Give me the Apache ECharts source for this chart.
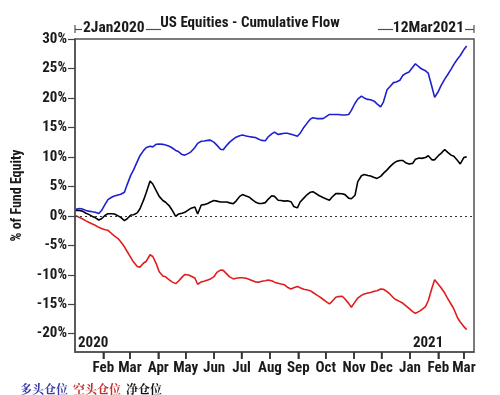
<!DOCTYPE html>
<html><head><meta charset="utf-8">
<script src="https://cdn.jsdelivr.net/npm/echarts@6/dist/echarts.min.js"></script>
<style>html,body{margin:0;padding:0;background:#fff}#c{width:500px;height:395px}</style>
</head><body><div id="c"></div>
<script>
const dates = ['2020-01-02','2020-01-06','2020-01-09','2020-01-13','2020-01-16','2020-01-20','2020-01-23','2020-01-27','2020-01-30','2020-02-03','2020-02-06','2020-02-10','2020-02-13','2020-02-17','2020-02-20','2020-02-24','2020-02-27','2020-03-02','2020-03-05','2020-03-09','2020-03-12','2020-03-16','2020-03-19','2020-03-23','2020-03-26','2020-03-30','2020-04-02','2020-04-06','2020-04-09','2020-04-13','2020-04-16','2020-04-20','2020-04-23','2020-04-27','2020-04-30','2020-05-04','2020-05-07','2020-05-11','2020-05-14','2020-05-18','2020-05-21','2020-05-25','2020-05-28','2020-06-01','2020-06-04','2020-06-08','2020-06-11','2020-06-15','2020-06-18','2020-06-22','2020-06-25','2020-06-29','2020-07-02','2020-07-06','2020-07-09','2020-07-13','2020-07-16','2020-07-20','2020-07-23','2020-07-27','2020-07-30','2020-08-03','2020-08-06','2020-08-10','2020-08-13','2020-08-17','2020-08-20','2020-08-24','2020-08-27','2020-08-31','2020-09-03','2020-09-07','2020-09-10','2020-09-14','2020-09-17','2020-09-21','2020-09-24','2020-09-28','2020-10-01','2020-10-05','2020-10-08','2020-10-12','2020-10-15','2020-10-19','2020-10-22','2020-10-26','2020-10-29','2020-11-02','2020-11-05','2020-11-09','2020-11-12','2020-11-16','2020-11-19','2020-11-23','2020-11-26','2020-11-30','2020-12-03','2020-12-07','2020-12-10','2020-12-14','2020-12-17','2020-12-21','2020-12-24','2020-12-28','2020-12-31','2021-01-04','2021-01-07','2021-01-11','2021-01-14','2021-01-18','2021-01-21','2021-01-25','2021-01-28','2021-02-01','2021-02-04','2021-02-08','2021-02-11','2021-02-15','2021-02-18','2021-02-22','2021-02-25','2021-03-01','2021-03-04'];
const longPos = [1.1,1.25,1.15,0.9,0.8,0.68,0.6,0.4,0.9,2.0,2.75,3.15,3.35,3.55,3.65,4.0,5.3,6.9,7.8,9.2,10.2,11.1,11.6,11.8,11.7,12.15,12.2,12.13,12.0,11.8,11.55,11.1,10.9,10.4,10.3,10.6,10.9,11.6,12.3,12.65,12.7,12.8,12.85,12.45,12.0,11.3,11.2,12.0,12.5,13.0,13.35,13.6,13.7,13.55,13.45,13.35,13.28,13.0,12.8,12.75,13.4,13.9,14.2,13.8,13.9,14.0,14.0,13.85,13.7,13.5,14.0,15.0,15.6,16.4,16.65,16.5,16.5,16.5,16.8,17.2,17.2,17.2,17.2,17.1,17.1,17.2,17.9,19.1,19.8,20.3,20.0,19.75,19.7,19.45,19.0,18.5,19.3,21.4,21.9,22.6,22.7,23.0,23.8,24.2,24.4,25.2,25.8,25.25,24.9,24.6,24.2,21.9,20.1,21.1,22.1,23.2,23.9,24.9,25.7,26.6,27.2,28.2,28.8];
const shortPos = [0,-0.3,-0.5,-0.85,-1.1,-1.4,-1.6,-1.95,-2.15,-2.35,-2.45,-3.0,-3.4,-3.85,-4.4,-5.25,-6.05,-7.1,-7.85,-8.6,-8.7,-8.0,-7.7,-6.6,-6.9,-8.2,-9.5,-10.2,-10.35,-10.85,-11.2,-11.5,-11.1,-10.4,-9.95,-10.05,-10.25,-10.55,-11.6,-11.2,-11.1,-10.9,-10.7,-10.3,-9.6,-9.2,-9.25,-9.88,-10.35,-10.7,-10.6,-10.5,-10.5,-10.6,-10.75,-11.0,-11.2,-11.25,-11.1,-11.0,-10.9,-11.0,-11.25,-11.45,-11.57,-11.7,-12.1,-12.4,-12.2,-12.0,-12.2,-12.45,-12.55,-12.7,-13.0,-13.4,-13.7,-14.15,-14.5,-14.95,-14.5,-13.8,-13.7,-13.65,-14.1,-14.85,-15.5,-14.6,-13.95,-13.5,-13.25,-13.1,-13.0,-12.8,-12.7,-12.4,-12.45,-12.85,-13.25,-13.9,-14.25,-14.55,-14.8,-15.3,-15.7,-16.25,-16.55,-16.2,-15.9,-15.4,-14.4,-12.3,-10.85,-11.6,-12.2,-13.1,-13.95,-15.0,-15.8,-17.3,-18.0,-18.8,-19.3];
const netPos = [0.9,0.9,0.8,0.45,0.25,-0.1,-0.3,-0.7,-0.5,0.1,0.36,0.36,0.3,0.0,-0.25,-0.8,-0.5,0.15,0.19,0.5,1.2,2.7,4.0,5.9,5.4,4.2,3.3,2.6,2.3,1.7,1.0,-0.1,0.3,0.45,0.6,1.0,1.3,1.5,0.3,1.85,1.9,2.1,2.35,2.6,2.5,2.35,2.35,2.35,2.2,2.06,2.5,3.3,3.6,3.35,3.2,2.7,2.35,2.1,2.1,2.24,2.8,3.4,3.3,2.65,2.6,2.5,2.55,2.4,1.6,1.35,2.35,3.0,3.5,4.0,4.1,3.7,3.4,3.1,2.9,2.65,3.2,3.77,3.77,3.75,3.6,3.0,2.9,3.5,5.8,6.8,7.0,6.85,6.75,6.5,6.35,6.7,7.2,7.8,8.3,8.9,9.2,9.4,9.4,8.95,8.8,8.9,9.6,9.8,9.75,9.9,10.2,9.5,9.5,10.2,10.6,11.25,10.8,10.3,10.1,9.4,8.8,9.9,10.0];
const seriesNames = ['多头仓位','空头仓位','净仓位'];
const yTicks = [-20,-15,-10,-5,0,5,10,15,20,25,30];
const monthTicks = ['2020-02-01','2020-03-01','2020-04-01','2020-05-01','2020-06-01','2020-07-01','2020-08-01','2020-09-01','2020-10-01','2020-11-01','2020-12-01','2021-01-01','2021-02-01','2021-03-01'];
const monthNames = ['Jan','Feb','Mar','Apr','May','Jun','Jul','Aug','Sep','Oct','Nov','Dec'];
const yearMarks = ['2020-01-01','2021-01-01'];
const xStart = '2020-01-01', xEnd = '2021-03-12';
const yMin = -23.1, yMax = 30;
const startLabel = '2Jan2020', endLabel = '12Mar2021';
const titleText = 'US Equities - Cumulative Flow';
const yName = '% of Fund Equity';

function ts(s){const p=s.split('-').map(Number);return Date.UTC(p[0],p[1]-1,p[2]);}
function pairs(vals){return dates.map((d,i)=>[ts(d),vals[i]]);}

const FONT = "'Liberation Sans Narrow','Roboto Condensed',Roboto,sans-serif";
const axisColor = '#505050';
const chart = echarts.init(document.getElementById('c'), null, {renderer:'canvas'});
const lineSeg = (x1,y1,x2,y2)=>({type:'line',shape:{x1,y1,x2,y2},style:{stroke:'#505050',lineWidth:1.2}});
chart.setOption({
  animation:false,
  backgroundColor:'#fff',
  title:{text:titleText,left:'center',top:11,textStyle:{fontFamily:FONT,fontSize:15,fontWeight:'bold',color:'#1a1a1a'}},
  legend:{left:10,top:378,itemWidth:0,itemHeight:0,itemGap:0,icon:'rect',
    textStyle:{fontFamily:"'Noto Serif CJK SC','Noto Sans CJK SC',serif",fontSize:12,fontWeight:'bold'},
    data:[{name:seriesNames[0],textStyle:{color:'#3a3aa8'}},{name:seriesNames[1],textStyle:{color:'#c03030'}},{name:seriesNames[2],textStyle:{color:'#111'}}]},
  grid:{left:75,right:26,top:39,bottom:43,show:true,borderColor:axisColor,borderWidth:1.5,containLabel:false},
  xAxis:[{type:'value',min:ts(xStart),max:ts(xEnd),
    axisLine:{show:true,onZero:false,lineStyle:{color:axisColor,width:1.5}},
    axisTick:{show:true,length:7,lineStyle:{color:'#333',width:1.5},customValues:monthTicks.map(ts)},
    axisLabel:{show:true,customValues:monthTicks.map(ts),formatter:v=>monthNames[new Date(v).getUTCMonth()],
      fontFamily:FONT,fontSize:15,fontWeight:'bold',color:'#1a1a1a',margin:9},
    splitLine:{show:false}},
   {type:'value',min:ts(xStart),max:ts(xEnd),position:'bottom',
    axisLine:{show:false,onZero:false},axisTick:{show:false},splitLine:{show:false},
    axisLabel:{show:true,inside:true,customValues:yearMarks.map(ts),formatter:v=>String(new Date(v).getUTCFullYear()),
      align:'left',padding:[0,0,0,3],margin:1,fontFamily:FONT,fontSize:15,fontWeight:'bold',color:'#1a1a1a'}}],
  yAxis:{type:'value',min:yMin,max:yMax,
    name:yName,nameLocation:'middle',nameGap:51,nameRotate:90,
    nameTextStyle:{fontFamily:FONT,fontSize:14,fontWeight:'bold',color:'#1a1a1a'},
    axisLine:{show:true,lineStyle:{color:axisColor,width:1.5}},
    axisTick:{show:true,length:7,lineStyle:{color:'#444',width:1.2},customValues:yTicks},
    axisLabel:{customValues:yTicks,formatter:v=>v+'%',fontFamily:FONT,fontSize:15,fontWeight:'bold',color:'#1a1a1a',margin:8},
    splitLine:{show:false}},
  series:[
    {name:seriesNames[0],type:'line',data:pairs(longPos),showSymbol:false,lineStyle:{color:'#2020d0',width:1.6},itemStyle:{color:'#2020d0'},z:3},
    {name:seriesNames[1],type:'line',data:pairs(shortPos),showSymbol:false,lineStyle:{color:'#e01c1c',width:1.6},itemStyle:{color:'#e01c1c'},z:3},
    {name:seriesNames[2],type:'line',data:pairs(netPos),showSymbol:false,lineStyle:{color:'#000',width:1.6},itemStyle:{color:'#000'},z:4,
     markLine:{silent:true,symbol:['none','none'],label:{show:false},lineStyle:{type:[2,3],color:'#333',width:1},data:[{yAxis:0}]}},
    {type:'custom',silent:true,clip:false,z:5,xAxisIndex:0,encode:{x:0,y:1},
     data:monthTicks.map(d=>[ts(d),yMin]),
     renderItem:(params,api)=>{const p=api.coord([api.value(0),api.value(1)]);
       return {type:'line',shape:{x1:p[0],y1:p[1],x2:p[0],y2:p[1]+7},style:{stroke:'#333',lineWidth:1.5}};}}
  ],
  graphic:[
    lineSeg(75,25,75,33), lineSeg(75,29.5,82,29.5),
    {type:'text',left:83,top:20,style:{text:startLabel,fontFamily:FONT,fontSize:15.5,fontWeight:'bold',fill:'#1a1a1a'}},
    lineSeg(146,29.5,161,29.5),
    lineSeg(378,29.5,393,29.5),
    {type:'text',right:36,top:20,style:{text:endLabel,fontFamily:FONT,fontSize:15.5,fontWeight:'bold',fill:'#1a1a1a'}},
    lineSeg(465,29.5,474,29.5), lineSeg(474,25,474,33)
  ]
});
</script></body></html>
